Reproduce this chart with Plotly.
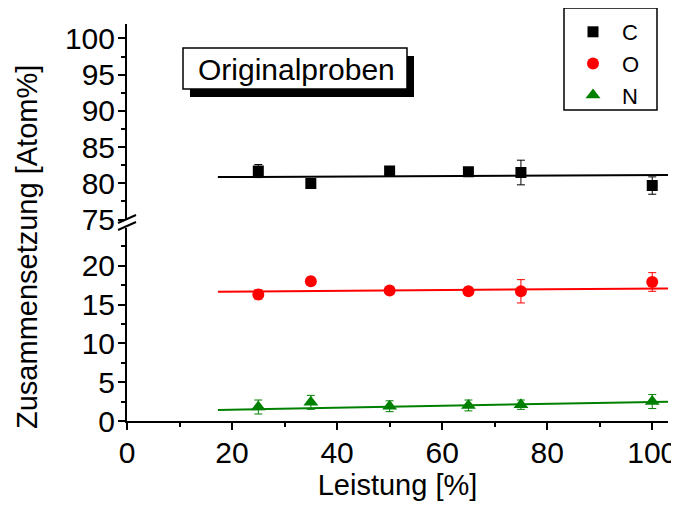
import plotly.graph_objects as go

# ---- data ----
leistung = [25, 35, 50, 65, 75, 100]
c_vals = [81.7, 80.0, 81.7, 81.6, 81.5, 79.7]
c_err = [0.9, 0.3, 0.3, 0.3, 1.7, 1.2]
o_vals = [16.3, 18.0, 16.8, 16.7, 16.7, 17.9]
o_err = [0.6, 0.5, 0.3, 0.3, 1.5, 1.2]
n_vals = [1.8, 2.4, 1.9, 2.0, 2.1, 2.5]
n_err = [0.9, 0.9, 0.7, 0.7, 0.6, 0.9]
fit_x = [17.3, 103]
fit_c = [80.87, 81.15]
fit_o = [16.65, 17.07]
fit_n = [1.42, 2.49]
x_ticks = [0, 20, 40, 60, 80, 100]
low_ticks = [0, 5, 10, 15, 20]
up_ticks = [75, 80, 85, 90, 95, 100]

# page body has an 8px margin; size the figure so the plot area lands
# at viewport pixels x 127..668, y 24..421
OFF = 8
W, H = 679 - OFF, 506 - OFF
PL, PR, PT, PB = 127, 668, 24, 421   # plot area in viewport pixels
ML, MR, MT, MB = PL - OFF, W + OFF - PR, PT - OFF, H + OFF - PB
PW, PH = PR - PL, PB - PT


def px(p):
    return (p - PL) / PW


def py(p):
    return (PB - p) / PH


FONT = "Liberation Sans, Arial, sans-serif"

fig = go.Figure()

# fit lines
fig.add_trace(go.Scatter(x=fit_x, y=fit_c, mode="lines", yaxis="y2",
                         line=dict(color="black", width=2), showlegend=False))
fig.add_trace(go.Scatter(x=fit_x, y=fit_o, mode="lines",
                         line=dict(color="#FF0000", width=2), showlegend=False))
fig.add_trace(go.Scatter(x=fit_x, y=fit_n, mode="lines",
                         line=dict(color="#008000", width=2), showlegend=False))

# data
fig.add_trace(go.Scatter(x=leistung, y=c_vals, mode="markers", name="C", yaxis="y2",
                         marker=dict(symbol="square", size=11, color="black"),
                         error_y=dict(type="data", array=c_err, color="black",
                                      thickness=1, width=4)))
fig.add_trace(go.Scatter(x=leistung, y=o_vals, mode="markers", name="O",
                         marker=dict(symbol="circle", size=12, color="#FF0000"),
                         error_y=dict(type="data", array=o_err, color="#FF0000",
                                      thickness=1, width=4)))
fig.add_trace(go.Scatter(x=leistung, y=n_vals, mode="markers", name="N",
                         marker=dict(symbol="triangle-up", size=13, color="#008000"),
                         error_y=dict(type="data", array=n_err, color="#008000",
                                      thickness=1, width=4)))

axis_common = dict(showline=True, linecolor="black", linewidth=2, ticks="outside",
                   tickcolor="black", tickwidth=2, ticklen=7, showgrid=False,
                   zeroline=False, automargin=False, ticklabelstandoff=-3,
                   tickfont=dict(family=FONT, size=30, color="black"))

fig.update_layout(
    width=W, height=H, autosize=False,
    margin=dict(l=ML, r=MR, t=MT, b=MB, autoexpand=False),
    plot_bgcolor="white", paper_bgcolor="white",
    font=dict(family=FONT, color="black"),
    xaxis=dict(range=[0, 103], tickvals=x_ticks, anchor="y",
               minor=dict(dtick=10, tick0=0, ticks="outside", ticklen=4,
                          tickwidth=2, tickcolor="black"),
               title=dict(text="Leistung [%]", font=dict(family=FONT, size=29),
                          standoff=6),
               **axis_common),
    yaxis=dict(domain=[0, py(228)], range=[0, 24.85], tickvals=low_ticks,
               minor=dict(tickvals=[2.5, 7.5, 12.5, 17.5, 22.5], ticks="outside",
                          ticklen=4, tickwidth=2, tickcolor="black"),
               **axis_common),
    yaxis2=dict(domain=[py(219.6), 1], range=[75, 102], tickvals=up_ticks,
                anchor="x",
                minor=dict(tickvals=[77.5, 82.5, 87.5, 92.5, 97.5], ticks="outside",
                           ticklen=4, tickwidth=2, tickcolor="black"),
                **axis_common),
    legend=dict(x=px(564), y=py(11), xanchor="left", yanchor="top",
                bgcolor="rgba(0,0,0,0)", borderwidth=0,
                font=dict(family=FONT, size=22, color="black"),
                itemwidth=48, tracegroupgap=0),
)

# legend frame
fig.add_shape(type="rect", xref="paper", yref="paper",
              x0=px(564), x1=px(657), y0=py(110), y1=py(8),
              line=dict(color="black", width=1.5), layer="below",
              fillcolor="white")

# y axis title
fig.add_annotation(text="Zusammensetzung [Atom%]", xref="paper", yref="paper",
                   x=px(27), y=py(247), textangle=-90, showarrow=False,
                   xanchor="center", yanchor="middle",
                   font=dict(family=FONT, size=29, color="black"))

# title box with shadow
fig.add_shape(type="rect", xref="paper", yref="paper",
              x0=px(190), x1=px(414), y0=py(97), y1=py(56),
              fillcolor="black", line=dict(width=0), layer="above")
fig.add_shape(type="rect", xref="paper", yref="paper",
              x0=px(183), x1=px(407), y0=py(89), y1=py(48),
              fillcolor="white", line=dict(color="black", width=1.5), layer="above")
fig.add_annotation(text="Originalproben", xref="paper", yref="paper",
                   x=px(296), y=py(69), showarrow=False,
                   xanchor="center", yanchor="middle",
                   font=dict(family=FONT, size=30, color="black"))

# axis break marks
for yc in (219, 226):
    fig.add_shape(type="line", xref="paper", yref="paper",
                  x0=px(118), y0=py(yc + 4), x1=px(136), y1=py(yc - 4),
                  line=dict(color="black", width=2))

fig.write_html("out.html")
